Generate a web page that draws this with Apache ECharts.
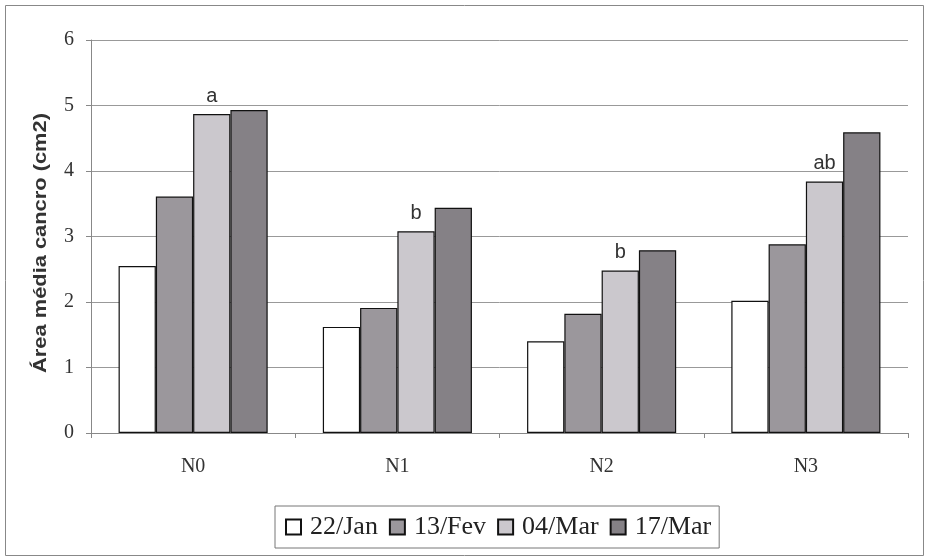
<!DOCTYPE html>
<html><head><meta charset="utf-8">
<script src="https://cdn.jsdelivr.net/npm/echarts@6/dist/echarts.min.js"></script>
<style>html,body{margin:0;padding:0;background:#fff}#c{width:925px;height:559px}</style>
</head><body><div id="c"></div>
<script>
const categories = ['N0', 'N1', 'N2', 'N3'];
const seriesNames = ['22/Jan', '13/Fev', '04/Mar', '17/Mar'];
const jan22 = [2.55, 1.62, 1.40, 2.02];
const fev13 = [3.61, 1.91, 1.82, 2.88];
const mar04 = [4.87, 3.08, 2.48, 3.84];
const mar17 = [4.93, 3.44, 2.79, 4.59];
const letters = ['a', 'b', 'b', 'ab'];
const yTicks = [0, 1, 2, 3, 4, 5, 6];
const yTitle = 'Área média cancro (cm2)';

const colors = ['#ffffff', '#9b979c', '#cbc8cd', '#858186'];
const values = [jan22, fev13, mar04, mar17];

const chart = echarts.init(document.getElementById('c'));
chart.setOption({
  animation: false,
  backgroundColor: '#fff',
  graphic: [{
    type: 'rect', left: 3, top: 3,
    shape: { width: 918, height: 550 },
    style: { fill: 'none', stroke: '#888', lineWidth: 1 }
  }, {
    type: 'text', x: 41, y: 243, rotation: Math.PI / 2, scaleX: 1.15,
    style: {
      text: yTitle, font: 'bold 19px "Liberation Sans"', fill: '#333',
      textAlign: 'center', textVerticalAlign: 'middle'
    }
  }],
  grid: { left: 91, right: 17, top: 40, bottom: 126 },
  legend: {
    data: seriesNames,
    bottom: 11,
    left: 275,
    itemWidth: 15, itemHeight: 15, itemGap: 11,
    icon: 'rect',
    borderColor: '#777', borderWidth: 1,
    padding: [8, 8, 8, 10],
    textStyle: { fontFamily: 'Liberation Serif', fontSize: 26, color: '#222', padding: [0, 0, 0, 4] }
  },
  xAxis: {
    type: 'category', data: categories,
    axisLine: { lineStyle: { color: '#888' } },
    axisTick: { show: true, length: 5, lineStyle: { color: '#888' } },
    axisLabel: { fontFamily: 'Liberation Serif', fontSize: 20, color: '#333', margin: 24 }
  },
  yAxis: {
    type: 'value', min: 0, max: 6, interval: 1,
    axisLine: { show: true, lineStyle: { color: '#888' } },
    axisTick: { show: true, length: 5, inside: false, lineStyle: { color: '#888' } },
    axisLabel: { fontFamily: 'Liberation Serif', fontSize: 20, color: '#333', margin: 17,
      formatter: v => yTicks.includes(v) ? String(v) : '' },
    splitLine: { lineStyle: { color: '#999' } }
  },
  series: seriesNames.map((n, i) => ({
    name: n, type: 'bar', data: values[i],
    barGap: '0%', barCategoryGap: '27%',
    itemStyle: { color: colors[i], borderColor: '#111', borderWidth: 1.2 },
    label: i === 2 ? {
      show: true, position: 'top', distance: 8,
      fontFamily: 'Liberation Sans', fontSize: 20, color: '#333',
      formatter: p => letters[p.dataIndex]
    } : { show: false }
  }))
});
</script></body></html>
